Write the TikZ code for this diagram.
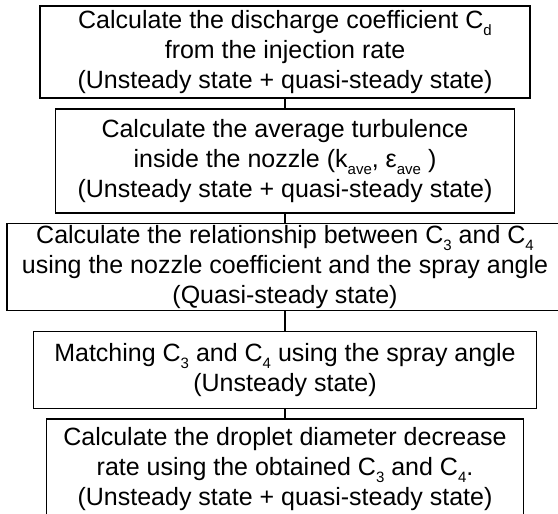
\documentclass[tikz,border=0pt]{standalone}
\usepackage{fontspec}
\setmainfont{Liberation Sans}
\newcommand\sbs[1]{\raisebox{-0.28em}{\fontsize{15}{15}\selectfont #1}}
\begin{document}
\begin{tikzpicture}[x=1pt,y=-1pt,
  frame/.style={draw, line width=1.7pt, inner sep=0pt, align=center,
    font=\fontsize{25}{30}\selectfont},
  link/.style={line width=1.7pt}]
\useasboundingbox (0,0) rectangle (558,514);
\clip (0,0) rectangle (558,514);
\node[frame, minimum width=490, minimum height=92] (b1) at (285,52)
  {Calculate the discharge coefficient C\sbs{d}\\from the injection rate\\(Unsteady state + quasi-steady state)};
\node[frame, minimum width=459, minimum height=104] (b2) at (285,161)
  {Calculate the average turbulence\\inside the nozzle (k\sbs{ave}, ε\sbs{ave} )\\(Unsteady state + quasi-steady state)};
\node[frame, minimum width=556, minimum height=87] (b3) at (285,267)
  {Calculate the relationship between C\sbs{3} and C\sbs{4}\\using the nozzle coefficient and the spray angle\\(Quasi-steady state)};
\node[frame, minimum width=503, minimum height=77] (b4) at (285,370)
  {Matching C\sbs{3} and C\sbs{4} using the spray angle\\(Unsteady state)};
\node[frame, minimum width=477, minimum height=100] (b5) at (285,469)
  {Calculate the droplet diameter decrease\\rate using the obtained C\sbs{3} and C\sbs{4}.\\(Unsteady state + quasi-steady state)};
\draw[link] (b1.south) -- (b2.north);
\draw[link] (b2.south) -- (b3.north);
\draw[link] (b3.south) -- (b4.north);
\draw[link] (b4.south) -- (b5.north);
\end{tikzpicture}
\end{document}
